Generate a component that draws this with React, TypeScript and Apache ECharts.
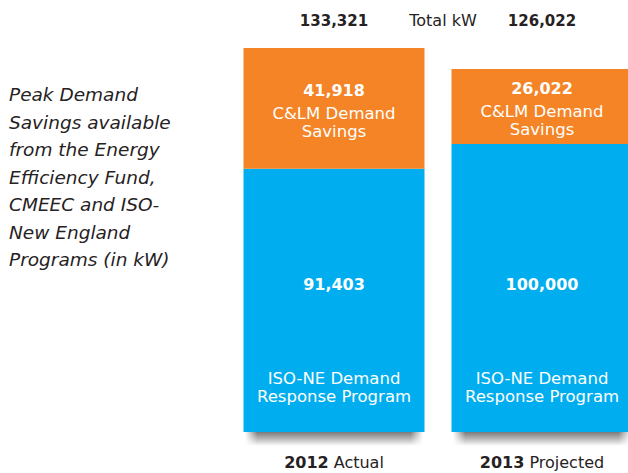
import React, { useEffect, useRef } from "react";
import * as echarts from "echarts";

const categories = ["2012", "2013"];
const categorySuffix = ["Actual", "Projected"];
const isoValues = [91403, 100000];
const clmValues = [41918, 26022];
const isoName = ["ISO-NE Demand", "Response Program"];
const clmName = ["C&LM Demand", "Savings"];
const sideNote = [
  "Peak Demand",
  "Savings available",
  "from the Energy",
  "Efficiency Fund,",
  "CMEEC and ISO-",
  "New England",
  "Programs (in kW)",
];

const FONT = "'DejaVu Sans', 'Noto Sans', sans-serif";
const BLUE = "#00AEEF";
const ORANGE = "#F58426";
const TEXT = "#262223";

const fmt = (v: number) => v.toLocaleString("en-US");

export default function App() {
  const ref = useRef<HTMLDivElement>(null);
  useEffect(() => {
    if (!ref.current) return;
    const chart = echarts.init(ref.current, undefined, { renderer: "svg" });
    const totals = categories.map((_, i) => isoValues[i] + clmValues[i]);
    const maxTotal = Math.max(...totals);

    chart.setOption({
      animation: false,
      backgroundColor: "#ffffff",
      textStyle: { fontFamily: FONT },
      grid: {
        left: 230,
        top: 48,
        width: 416,
        height: 384,
        outerBoundsMode: "none",
        containLabel: false,
      },
      xAxis: [
        {
          type: "category",
          data: categories,
          position: "bottom",
          axisLine: { show: false },
          axisTick: { show: false },
          axisLabel: {
            interval: 0,
            margin: 22,
            fontFamily: FONT,
            fontSize: 16,
            color: TEXT,
            hideOverlap: false,
            formatter: (v: string) => {
              const i = categories.indexOf(v);
              return `{b|${v}} ${categorySuffix[i]}`;
            },
            rich: {
              b: { fontWeight: "bold", fontSize: 16, fontFamily: FONT, color: TEXT },
            },
          },
        },
        {
          type: "category",
          data: categories,
          position: "top",
          axisLine: { show: false },
          axisTick: { show: false },
          axisLabel: {
            interval: 0,
            margin: 20,
            fontFamily: FONT,
            fontSize: 15,
            fontWeight: "bold",
            color: TEXT,
            formatter: (v: string) => fmt(totals[categories.indexOf(v)]),
          },
        },
      ],
      yAxis: { type: "value", min: 0, max: maxTotal, show: false, splitLine: { show: false } },
      series: [
        {
          type: "custom",
          z: 1,
          silent: true,
          data: categories.map((c) => [c, 0]),
          encode: { x: 0, y: 1 },
          renderItem: (params: any, api: any) => {
            const p = api.coord([api.value(0), 0]);
            const w = 178;
            const h = 14;
            return {
              type: "group",
              children: [
                {
                  type: "rect",
                  shape: { x: p[0] - w / 2, y: p[1], width: w, height: h },
                  style: {
                    fill: new echarts.graphic.LinearGradient(0, 0, 0, 1, [
                      { offset: 0, color: "#7a7a7a" },
                      { offset: 0.45, color: "#b4b4b4" },
                      { offset: 1, color: "#ffffff" },
                    ]),
                  },
                },
                {
                  type: "rect",
                  shape: { x: p[0] - w / 2, y: p[1], width: w, height: h },
                  style: {
                    fill: new echarts.graphic.LinearGradient(0, 0, 1, 0, [
                      { offset: 0, color: "rgba(255,255,255,1)" },
                      { offset: 0.07, color: "rgba(255,255,255,0)" },
                      { offset: 0.93, color: "rgba(255,255,255,0)" },
                      { offset: 1, color: "rgba(255,255,255,1)" },
                    ]),
                  },
                },
              ],
            };
          },
        },
        {
          name: "ISO-NE Demand Response Program",
          type: "bar",
          stack: "total",
          z: 3,
          barWidth: 181,
          data: isoValues,
          itemStyle: { color: BLUE },
          label: {
            show: true,
            position: "insideBottom",
            distance: 27,
            color: "#ffffff",
            fontFamily: FONT,
            formatter: (p: any) =>
              `{v|${fmt(p.value)}}\n{sp| }\n{n|${isoName[0]}}\n{n|${isoName[1]}}`,
            rich: {
              v: { fontSize: 16, fontWeight: "bold", lineHeight: 18, color: "#fff", fontFamily: FONT },
              sp: { fontSize: 10, lineHeight: 76, color: "#fff" },
              n: { fontSize: 16.5, lineHeight: 18, color: "#fff", fontFamily: FONT },
            },
          },
        },
        {
          name: "C&LM Demand Savings",
          type: "bar",
          stack: "total",
          z: 3,
          barWidth: 181,
          data: clmValues,
          itemStyle: { color: ORANGE },
          label: {
            show: true,
            position: "inside",
            color: "#ffffff",
            fontFamily: FONT,
            formatter: (p: any) =>
              `{v|${fmt(p.value)}}\n{n|${clmName[0]}}\n{n|${clmName[1]}}`,
            rich: {
              v: { fontSize: 16, fontWeight: "bold", lineHeight: 28, color: "#fff", fontFamily: FONT },
              n: { fontSize: 16.5, lineHeight: 18, color: "#fff", fontFamily: FONT },
            },
          },
        },
      ],
      graphic: [
        {
          type: "text",
          left: 9,
          top: 81,
          style: {
            text: sideNote.join("\n"),
            fontFamily: FONT,
            fontSize: 18.5,
            fontStyle: "italic",
            lineHeight: 27.5,
            fill: TEXT,
          },
        },
        {
          type: "text",
          x: 443,
          y: 20,
          style: {
            text: "Total kW",
            fontFamily: FONT,
            fontSize: 16,
            fill: TEXT,
            textAlign: "center",
            textVerticalAlign: "middle",
            align: "center",
            verticalAlign: "middle",
          },
        },
      ],
    });
    return () => chart.dispose();
  }, []);
  return (
    <div
      ref={ref}
      style={{ position: "fixed", left: 0, top: 0, width: 628, height: 473 }}
    />
  );
}
